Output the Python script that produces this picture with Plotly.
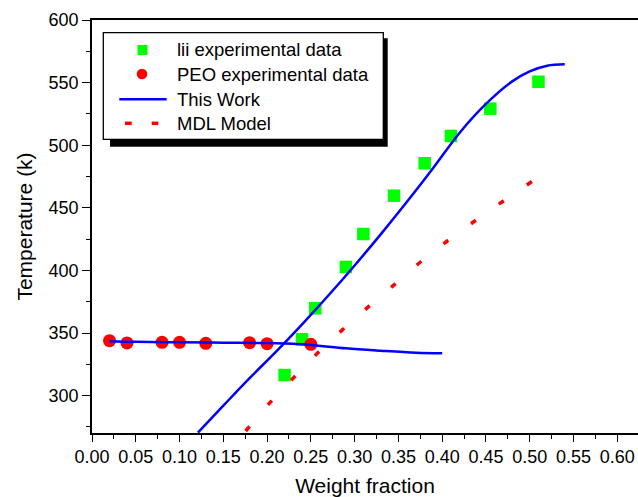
import plotly.graph_objects as go

# ---- data ----
lii_x = [0.22, 0.24, 0.255, 0.29, 0.31, 0.345, 0.38, 0.41, 0.455, 0.51]
lii_T = [316.5, 345.0, 369.8, 402.8, 429.1, 459.7, 485.6, 507.4, 529.2, 550.7]

peo_x = [0.02, 0.04, 0.08, 0.10, 0.13, 0.18, 0.20, 0.25]
peo_T = [343.9, 342.1, 342.6, 342.6, 341.8, 342.3, 341.5, 341.0]

work_rise_x = [0.121, 0.15, 0.18, 0.21, 0.24, 0.27, 0.30, 0.33, 0.36, 0.39, 0.42, 0.45, 0.48, 0.50, 0.52, 0.54]
work_rise_T = [270.5, 292, 314, 335, 357, 380, 404, 429, 455, 482, 510, 533, 551, 559, 563.5, 564.6]

work_flat_x = [0.02, 0.05, 0.10, 0.15, 0.20, 0.22, 0.25, 0.29, 0.33, 0.37, 0.40]
work_flat_T = [343.5, 343.0, 342.6, 342.3, 342.0, 341.6, 340.5, 337.8, 335.9, 334.3, 333.8]

mdl_x = [0.1755, 0.203, 0.23, 0.258, 0.288, 0.319, 0.349, 0.378, 0.409, 0.439, 0.47, 0.5025]
mdl_T = [271.8, 294.2, 314.1, 334.3, 353.8, 373.0, 390.8, 408.4, 425.2, 440.3, 455.5, 471.0]

legend_names = ["lii experimental data", "PEO experimental data", "This Work", "MDL Model"]

x_range = [0, 0.6237]
y_range = [270.2, 600]

FONT = "Liberation Sans, Arial, sans-serif"
GREEN, RED, BLUE = "#00FF00", "#FF0000", "#0000FF"

W, H = 638, 497
ML, MR, MT, MB = 92, 0, 20, 64
PW, PH = W - ML - MR, H - MT - MB


def xp(px):
    return (px - ML) / PW


def yp(py):
    return (H - MB - py) / PH


fig = go.Figure()
fig.add_trace(go.Scatter(x=lii_x, y=lii_T, mode="markers", name=legend_names[0],
                         marker=dict(symbol="square", size=12.5, color=GREEN)))
fig.add_trace(go.Scatter(x=peo_x, y=peo_T, mode="markers", name=legend_names[1],
                         marker=dict(symbol="circle", size=13, color=RED)))
fig.add_trace(go.Scatter(x=work_rise_x, y=work_rise_T, mode="lines", name=legend_names[2],
                         line=dict(color=BLUE, width=2.5, shape="spline")))
fig.add_trace(go.Scatter(x=work_flat_x, y=work_flat_T, mode="lines", name=legend_names[2],
                         line=dict(color=BLUE, width=2.5, shape="spline")))
fig.add_trace(go.Scatter(x=mdl_x, y=mdl_T, mode="lines", name=legend_names[3],
                         line=dict(color=RED, width=3.5, dash="6px,28.1px", shape="spline")))

axis_common = dict(showgrid=False, zeroline=False, showline=True, linecolor="black",
                   linewidth=1.5, ticks="outside", tickcolor="black", tickwidth=1.2,
                   tickfont=dict(family=FONT, size=18, color="black"))

fig.update_xaxes(range=x_range, dtick=0.05, tick0=0, tickformat=".2f", ticklen=7,
                 mirror=True,
                 minor=dict(dtick=0.025, ticks="outside", ticklen=4, tickcolor="black", tickwidth=1.2),
                 title=dict(text="Weight fraction", standoff=15,
                            font=dict(family=FONT, size=21, color="black")),
                 automargin=False,
                 **axis_common)
fig.update_yaxes(range=y_range, dtick=50, tick0=300, ticklen=8,
                 minor=dict(dtick=25, ticks="outside", ticklen=4.5, tickcolor="black", tickwidth=1.2),
                 title=dict(text="Temperature (k)", standoff=10,
                            font=dict(family=FONT, size=21, color="black")),
                 automargin=False,
                 **axis_common)

# ---- legend drawn as a framed box with drop shadow ----
shapes = [
    dict(type="rect", x0=xp(110), x1=xp(387.7), y0=yp(146.7), y1=yp(38.3),
         fillcolor="black", line=dict(width=0)),
    dict(type="rect", x0=xp(103.3), x1=xp(383.3), y0=yp(139.3), y1=yp(32.7),
         fillcolor="white", line=dict(color="black", width=1.3)),
    dict(type="rect", x0=xp(137.5), x1=xp(147.5), y0=yp(55), y1=yp(45),
         fillcolor=GREEN, line=dict(width=0)),
    dict(type="circle", x0=xp(136.7), x1=xp(147.3), y0=yp(79.3), y1=yp(68.7),
         fillcolor=RED, line=dict(width=0)),
    dict(type="line", x0=xp(119.3), x1=xp(166.7), y0=yp(99.3), y1=yp(99.3),
         line=dict(color=BLUE, width=2.5)),
    dict(type="line", x0=xp(125), x1=xp(131.7), y0=yp(123.3), y1=yp(123.3),
         line=dict(color=RED, width=3.5)),
    dict(type="line", x0=xp(151.7), x1=xp(158.3), y0=yp(123.3), y1=yp(123.3),
         line=dict(color=RED, width=3.5)),
]
for s in shapes:
    s.update(xref="paper", yref="paper", layer="above")
fig.update_layout(shapes=shapes)

row_y = [50, 74, 99, 123.3]
for name, ry in zip(legend_names, row_y):
    fig.add_annotation(xref="paper", yref="paper", x=xp(175), y=yp(ry),
                       xanchor="left", yanchor="middle", showarrow=False,
                       text=name, font=dict(family=FONT, size=18.5, color="black"))

fig.update_layout(
    width=W, height=H,
    margin=dict(l=ML, r=MR, t=MT, b=MB),
    paper_bgcolor="white", plot_bgcolor="white",
    font=dict(family=FONT, color="black"),
    showlegend=False,
)

fig.write_html("out.html", config={"displayModeBar": False},
               post_script="document.body.style.margin='0';document.body.style.overflow='hidden';")
